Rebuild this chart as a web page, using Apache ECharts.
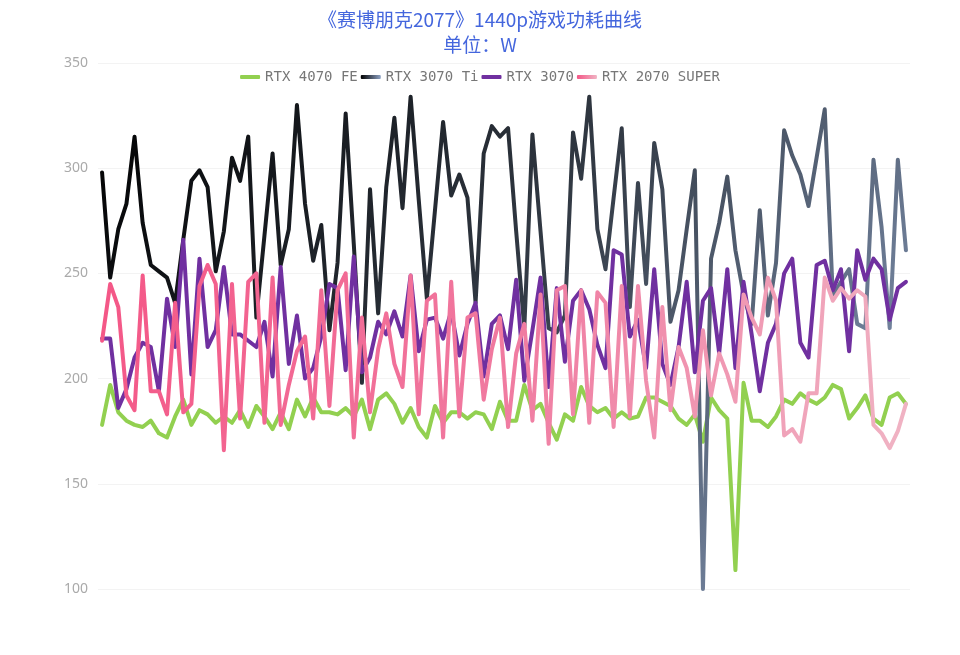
<!DOCTYPE html>
<html>
<head>
<meta charset="utf-8">
<script src="https://cdn.jsdelivr.net/npm/echarts@6/dist/echarts.min.js"></script>
<style>
html,body{margin:0;padding:0;background:#fff;}
#chart{width:960px;height:655px;}
</style>
</head>
<body>
<div id="chart"></div>
<script>
const titleText = '《赛博朋克2077》1440p游戏功耗曲线';
const subTitleText = '单位：W';
const seriesNames = ['RTX 4070 FE', 'RTX 3070 Ti', 'RTX 3070', 'RTX 2070 SUPER'];
const yTicks = [100, 150, 200, 250, 300, 350];

const samples = [1,2,3,4,5,6,7,8,9,10,11,12,13,14,15,16,17,18,19,20,21,22,23,24,25,26,27,28,29,30,31,32,33,34,35,36,37,38,39,40,41,42,43,44,45,46,47,48,49,50,51,52,53,54,55,56,57,58,59,60,61,62,63,64,65,66,67,68,69,70,71,72,73,74,75,76,77,78,79,80,81,82,83,84,85,86,87,88,89,90,91,92,93,94,95,96,97,98,99,100];

const rtx4070fe = [178,197,184,180,178,177,180,174,172,182,190,178,185,183,179,182,179,185,177,187,182,176,184,176,190,182,191,184,184,183,186,182,190,176,190,193,188,179,186,177,172,187,179,184,184,181,184,183,176,189,180,180,197,185,188,179,171,183,180,196,187,184,186,181,184,181,182,191,191,189,187,181,178,183,170,191,185,181,109,198,180,180,177,182,190,188,193,190,188,191,197,195,181,186,192,181,178,191,193,188];

const rtx3070ti = [298,248,271,283,315,274,254,251,248,236,266,294,299,291,251,270,305,294,315,229,268,307,254,271,330,283,256,273,223,255,326,264,198,290,231,291,324,281,334,285,238,280,322,287,297,286,236,307,320,315,319,270,224,316,270,224,222,230,317,295,334,271,252,286,319,234,293,245,312,290,227,242,271,299,100,257,274,296,261,240,226,280,230,255,318,306,297,282,305,328,239,246,252,226,224,304,272,224,304,261];

const rtx3070 = [219,219,186,195,210,217,215,194,238,215,266,202,257,215,223,253,221,221,218,215,227,201,253,207,230,200,205,220,245,243,204,258,203,210,227,221,232,220,249,213,228,229,219,232,211,226,236,201,226,230,214,247,199,223,248,196,243,208,237,242,233,216,205,261,259,220,228,205,252,207,197,215,246,203,237,243,212,252,205,246,221,194,217,226,250,257,217,210,254,256,242,252,213,261,247,257,252,228,243,246];

const rtx2070super = [218,245,234,192,185,249,194,194,183,236,184,188,244,254,245,166,245,181,246,250,179,248,178,197,213,220,181,242,187,242,250,172,229,184,214,231,207,196,249,183,237,240,172,246,182,229,231,190,214,229,177,212,226,180,240,169,242,244,183,242,179,241,236,177,244,182,244,199,172,234,185,215,205,182,223,192,212,202,189,240,229,221,248,237,173,176,170,193,193,248,237,243,238,242,239,178,174,167,175,188];

const grad = (c0, c1, c2) => new echarts.graphic.LinearGradient(0, 0, 1, 1, [
  {offset: 0, color: c0}, {offset: 0.5, color: c1}, {offset: 1, color: c2}
]);

const colors = [
  '#92d050',
  grad('#000000', '#343c47', '#8ea2c4'),
  '#7030a0',
  grad('#f45686', '#f07aa0', '#f0b4c4')
];
const legendColors = [
  '#92d050',
  new echarts.graphic.LinearGradient(0, 0, 1, 0, [{offset: 0, color: '#000000'}, {offset: 1, color: '#8ea2c4'}]),
  '#7030a0',
  new echarts.graphic.LinearGradient(0, 0, 1, 0, [{offset: 0, color: '#f45686'}, {offset: 1, color: '#f0b4c4'}])
];

const dataSets = [rtx4070fe, rtx3070ti, rtx3070, rtx2070super];

const chart = echarts.init(document.getElementById('chart'), null, {renderer: 'canvas'});
chart.setOption({
  animation: false,
  backgroundColor: '#ffffff',
  title: {
    text: titleText + '\n' + subTitleText,
    left: 'center',
    top: 2,
    textStyle: {
      color: '#4466dd',
      fontSize: 19,
      fontWeight: 'normal',
      fontFamily: 'Noto Sans CJK SC',
      lineHeight: 25
    }
  },
  legend: {
    top: 65,
    left: 'center',
    icon: 'roundRect',
    itemWidth: 20,
    itemHeight: 4,
    itemGap: 3,
    data: seriesNames,
    textStyle: {color: '#777', fontSize: 14, fontFamily: 'DejaVu Sans Mono'}
  },
  grid: {left: 98, right: 50, top: 63, bottom: 66, containLabel: false},
  xAxis: {
    type: 'category',
    data: samples,
    axisLine: {show: false},
    axisTick: {show: false},
    axisLabel: {show: false},
    splitLine: {show: false}
  },
  yAxis: {
    type: 'value',
    min: yTicks[0],
    max: yTicks[yTicks.length - 1],
    interval: 50,
    axisLine: {show: false},
    axisTick: {show: false},
    axisLabel: {color: '#aaa', fontSize: 14, margin: 10, fontFamily: 'Noto Sans'},
    splitLine: {lineStyle: {color: '#f3f3f3', width: 1}}
  },
  series: dataSets.map((d, i) => ({
    name: seriesNames[i],
    type: 'line',
    data: d,
    symbol: 'none',
    showSymbol: false,
    lineStyle: {width: 4, color: colors[i], join: 'round', cap: 'round'},
    itemStyle: {color: legendColors[i]}
  }))
});
</script>
</body>
</html>
